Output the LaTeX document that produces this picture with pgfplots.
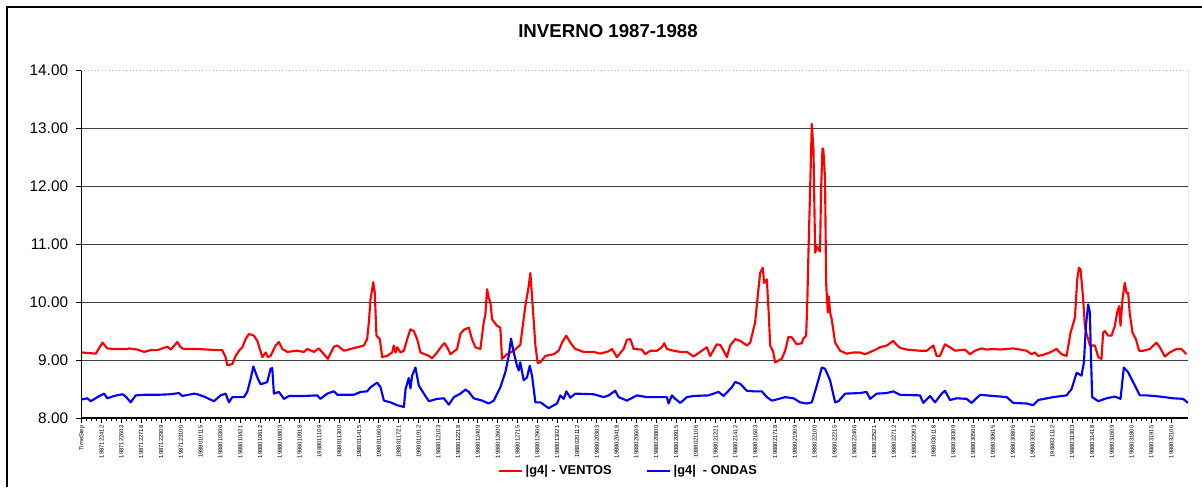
\documentclass[border=0pt]{standalone}
\usepackage{fontspec}
\setmainfont{Liberation Sans}
\usepackage{pgfplots}
\pgfplotsset{compat=1.18}
\begin{document}
\begin{tikzpicture}[x=0.75pt,y=0.75pt]
\useasboundingbox (0,0) rectangle (1202,487);
\draw[line width=1.4pt] (7,0) -- (7,480) -- (1202,480);
\node[font=\bfseries\fontsize{14}{16}\selectfont] at (608,456) {INVERNO 1987-1988};
\begin{axis}[
  at={(60.75pt,51.75pt)}, anchor=south west,
  scale only axis, width=830.25pt, height=261pt,
  xmin=-0.5, xmax=726, ymin=8, ymax=14,
  axis line style={draw=none},
  xtick pos=bottom, ytick pos=left,
  tick align=outside,
  major tick length=3.5pt, minor tick length=2.5pt,
  tick style={black, line width=0.7pt},
  ytick={8,9,...,13},
  extra y ticks={14}, extra y tick style={grid=none},
  ymajorgrids, major grid style={black!75, line width=0.6pt},
  /pgf/number format/.cd, fixed, fixed zerofill, precision=2, assume math mode=true,
  /pgfplots/.cd,
  yticklabel style={font=\fontsize{11.5}{12}\selectfont, inner xsep=6pt},
  xtick={0,13,...,715},
  minor x tick num=3,
  xticklabels={TimeStep,1987122412,1987122603,1987122718,1987122909,1987123100,1988010115,1988010306,1988010421,1988010612,1988010803,1988010918,1988011109,1988011300,1988011415,1988011606,1988011721,1988011912,1988012103,1988012218,1988012409,1988012600,1988012715,1988012906,1988013021,1988020112,1988020303,1988020418,1988020609,1988020800,1988020915,1988021106,1988021221,1988021412,1988021603,1988021718,1988021909,1988022100,1988022215,1988022406,1988022521,1988022712,1988022903,1988030118,1988030309,1988030500,1988030615,1988030806,1988030921,1988031112,1988031303,1988031418,1988031609,1988031800,1988031915,1988032106},
  xticklabel style={rotate=90, anchor=east, font=\fontsize{4.4}{5}\selectfont, inner xsep=2pt},
  legend columns=2,
  legend style={at={(0.495,-0.152)}, anchor=center, draw=none, fill=none, font=\bfseries\fontsize{9.6}{11}\selectfont, /tikz/every even column/.append style={column sep=24pt}},
  legend image code/.code={\draw[#1] (0pt,0pt) -- (17pt,0pt);},
]
\draw[black, line width=0.9pt] (rel axis cs:0,1) -- (rel axis cs:0,0) -- (rel axis cs:1,0);
\draw[gray, line width=0.6pt] (rel axis cs:1,0) -- (rel axis cs:1,1);
\draw[gray!60, dotted, line width=0.6pt] (rel axis cs:0,1) -- (rel axis cs:1,1);
\addplot[red, line width=1.6pt, line join=round, mark=none] coordinates {
(0,9.13)(9.2,9.11)(13.6,9.30)(16.8,9.20)(21.2,9.19)(29.9,9.19)(31.0,9.20)(36.5,9.18)(40.9,9.14)(45.2,9.17)(49.6,9.17)(56.2,9.23)(58.4,9.18)(62.7,9.31)(64.9,9.22)(67.1,9.19)(75.8,9.19)(89.0,9.17)(92.2,9.17)(94.4,9.05)(95.5,8.91)(98.8,8.93)(101.0,9.07)(103.2,9.16)(105.4,9.22)(107.5,9.36)(109.7,9.45)(113.0,9.42)(115.2,9.33)(118.5,9.05)(120.7,9.13)(122.2,9.05)(123.9,9.07)(127.2,9.25)(129.4,9.31)(131.6,9.19)(134.9,9.14)(141.4,9.16)(145.8,9.14)(148.0,9.19)(152.3,9.14)(155.6,9.20)(158.9,9.10)(161.5,9.02)(165.5,9.23)(167.7,9.25)(172.0,9.16)(176.4,9.19)(180.8,9.22)(185.1,9.25)(187.3,9.36)(188.4,9.65)(189.5,10.05)(190.6,10.22)(191.3,10.34)(192.3,10.16)(193.4,9.42)(195.6,9.36)(197.2,9.05)(200.4,9.07)(203.7,9.13)(204.8,9.25)(205.9,9.13)(207.0,9.22)(209.2,9.13)(211.4,9.16)(213.6,9.36)(215.7,9.53)(217.9,9.50)(220.1,9.36)(222.3,9.13)(227.8,9.07)(229.9,9.03)(233.2,9.13)(236.5,9.25)(238.0,9.29)(239.8,9.22)(242.0,9.10)(246.3,9.19)(248.5,9.45)(250.7,9.52)(254.0,9.56)(256.1,9.36)(258.3,9.22)(261.6,9.19)(263.8,9.65)(264.9,9.79)(266.0,10.22)(267.1,10.07)(268.2,9.99)(269.3,9.70)(272.5,9.59)(274.7,9.56)(275.8,9.02)(279.1,9.10)(283.5,9.16)(287.8,9.26)(291.1,9.93)(293.3,10.27)(294.4,10.50)(295.5,10.10)(297.7,9.25)(299.2,8.95)(301.0,8.96)(304.2,9.07)(309.7,9.10)(313.0,9.16)(315.2,9.30)(318.0,9.42)(320.6,9.30)(323.9,9.19)(329.4,9.14)(335.9,9.14)(340.3,9.11)(345.8,9.15)(348.0,9.19)(351.2,9.05)(355.6,9.19)(357.8,9.35)(360.0,9.36)(362.2,9.19)(367.6,9.18)(369.8,9.10)(373.1,9.16)(377.5,9.16)(380.7,9.22)(382.3,9.29)(384.0,9.19)(388.4,9.16)(392.8,9.14)(397.1,9.14)(401.5,9.06)(407.0,9.16)(410.2,9.22)(412.4,9.07)(416.8,9.27)(419.0,9.26)(421.2,9.16)(423.4,9.05)(425.5,9.25)(428.8,9.36)(432.1,9.33)(436.5,9.25)(438.7,9.30)(441.9,9.65)(444.1,10.22)(445.2,10.50)(446.9,10.59)(447.8,10.33)(449.6,10.39)(450.7,9.87)(451.8,9.25)(453.9,9.13)(455.0,8.96)(457.2,8.99)(459.4,9.02)(461.6,9.16)(463.8,9.40)(466.0,9.39)(469.2,9.27)(472.5,9.29)(473.6,9.37)(475.4,9.42)(476.2,10.05)(476.9,10.85)(478.0,11.93)(479.1,13.07)(480.2,12.62)(481.3,10.85)(482.4,10.96)(484.5,10.87)(485.2,11.93)(486.1,12.65)(486.7,12.62)(487.8,12.13)(488.5,10.33)(489.6,9.82)(490.2,10.10)(491.1,9.82)(492.2,9.70)(494.4,9.30)(497.7,9.16)(502.0,9.11)(506.4,9.13)(510.8,9.13)(514.1,9.10)(519.5,9.16)(523.9,9.22)(528.3,9.25)(532.6,9.33)(534.8,9.26)(537.0,9.21)(541.4,9.18)(550.1,9.16)(554.5,9.16)(558.9,9.25)(561.0,9.07)(563.2,9.07)(566.5,9.27)(569.8,9.22)(573.1,9.16)(579.6,9.18)(582.9,9.10)(586.2,9.16)(590.6,9.20)(593.8,9.18)(598.2,9.19)(602.6,9.18)(611.3,9.20)(620.1,9.16)(623.3,9.10)(625.5,9.13)(627.7,9.07)(631.0,9.09)(635.4,9.13)(639.7,9.19)(643.0,9.10)(646.3,9.07)(648.9,9.47)(651.8,9.73)(653.3,10.39)(654.4,10.59)(655.5,10.56)(657.2,10.05)(658.3,9.59)(659.4,9.45)(660.5,9.36)(661.6,9.25)(664.9,9.25)(667.1,9.05)(669.2,9.02)(670.3,9.47)(671.4,9.50)(673.6,9.42)(675.8,9.42)(678.0,9.59)(679.5,9.82)(680.8,9.93)(681.7,9.59)(683.0,10.05)(684.5,10.33)(685.6,10.16)(686.7,10.16)(687.8,9.79)(689.6,9.47)(691.8,9.36)(693.9,9.16)(696.6,9.16)(700.9,9.19)(705.3,9.30)(707.5,9.22)(710.8,9.06)(714.0,9.13)(718.4,9.19)(721.7,9.19)(725.0,9.10)
};
\addlegendentry{|g4| - VENTOS}
\addplot[blue, line width=1.6pt, line join=round, mark=none] coordinates {
(0,8.32)(3.7,8.34)(5.9,8.29)(10.3,8.36)(14.6,8.42)(16.8,8.34)(21.2,8.38)(26.7,8.41)(28.9,8.37)(32.1,8.27)(35.4,8.39)(40.9,8.40)(49.6,8.40)(58.4,8.41)(63.8,8.43)(66.0,8.38)(73.7,8.42)(75.8,8.41)(80.2,8.37)(86.8,8.29)(91.1,8.39)(94.4,8.42)(96.6,8.27)(98.8,8.36)(106.4,8.36)(108.6,8.45)(110.8,8.67)(112.6,8.89)(115.2,8.70)(117.4,8.58)(121.7,8.62)(123.9,8.85)(125.0,8.86)(126.1,8.42)(129.4,8.45)(132.7,8.33)(136.0,8.38)(145.8,8.38)(154.5,8.39)(156.7,8.33)(161.1,8.42)(165.5,8.46)(167.7,8.40)(178.6,8.40)(183.0,8.45)(187.3,8.46)(189.5,8.53)(193.9,8.61)(196.1,8.53)(198.3,8.30)(202.6,8.27)(207.0,8.22)(211.4,8.19)(212.5,8.50)(214.6,8.69)(215.7,8.51)(216.8,8.73)(219.0,8.87)(221.2,8.56)(224.5,8.42)(227.8,8.29)(233.2,8.33)(237.6,8.34)(240.9,8.23)(244.2,8.36)(248.5,8.42)(251.8,8.49)(254.0,8.45)(257.2,8.34)(262.7,8.30)(267.1,8.25)(270.4,8.30)(274.7,8.53)(278.0,8.79)(280.2,9.07)(281.7,9.37)(283.5,9.13)(285.7,8.90)(286.8,8.82)(287.8,8.96)(290.0,8.65)(292.2,8.70)(294.0,8.90)(295.5,8.73)(297.7,8.27)(301.0,8.27)(306.4,8.17)(311.9,8.25)(314.1,8.39)(316.3,8.33)(318.0,8.46)(320.6,8.35)(323.9,8.42)(335.9,8.41)(342.5,8.36)(345.8,8.39)(350.1,8.47)(352.3,8.36)(357.8,8.30)(364.3,8.39)(370.9,8.36)(379.6,8.36)(384.0,8.36)(385.1,8.25)(387.3,8.39)(389.5,8.33)(392.8,8.26)(397.1,8.36)(401.5,8.38)(411.3,8.39)(417.9,8.45)(421.2,8.38)(426.6,8.53)(428.8,8.62)(432.1,8.59)(436.5,8.47)(440.8,8.46)(446.3,8.46)(449.6,8.36)(452.9,8.30)(456.1,8.32)(461.6,8.36)(467.1,8.34)(471.5,8.27)(475.8,8.25)(479.1,8.27)(482.4,8.56)(485.7,8.87)(487.8,8.85)(491.1,8.65)(494.4,8.27)(496.6,8.29)(501.0,8.42)(510.8,8.43)(515.1,8.45)(517.3,8.33)(521.7,8.42)(528.3,8.43)(532.6,8.46)(537.0,8.40)(550.1,8.39)(552.3,8.26)(556.7,8.38)(560.0,8.27)(564.3,8.42)(566.5,8.47)(569.8,8.31)(574.2,8.34)(580.7,8.33)(584.0,8.26)(589.5,8.40)(598.2,8.38)(607.0,8.36)(611.3,8.26)(620.1,8.25)(624.4,8.22)(627.7,8.31)(637.5,8.36)(646.3,8.39)(649.6,8.50)(652.9,8.78)(656.1,8.73)(657.7,8.96)(659.0,9.59)(660.5,9.96)(661.6,9.82)(662.3,9.07)(663.1,8.36)(667.1,8.29)(672.5,8.34)(678.0,8.37)(681.7,8.33)(683.9,8.87)(686.7,8.79)(691.1,8.56)(694.4,8.39)(698.8,8.39)(707.5,8.37)(716.2,8.34)(722.8,8.33)(726.0,8.26)
};
\addlegendentry{|g4|\ \ - ONDAS}
\end{axis}
\end{tikzpicture}
\end{document}
